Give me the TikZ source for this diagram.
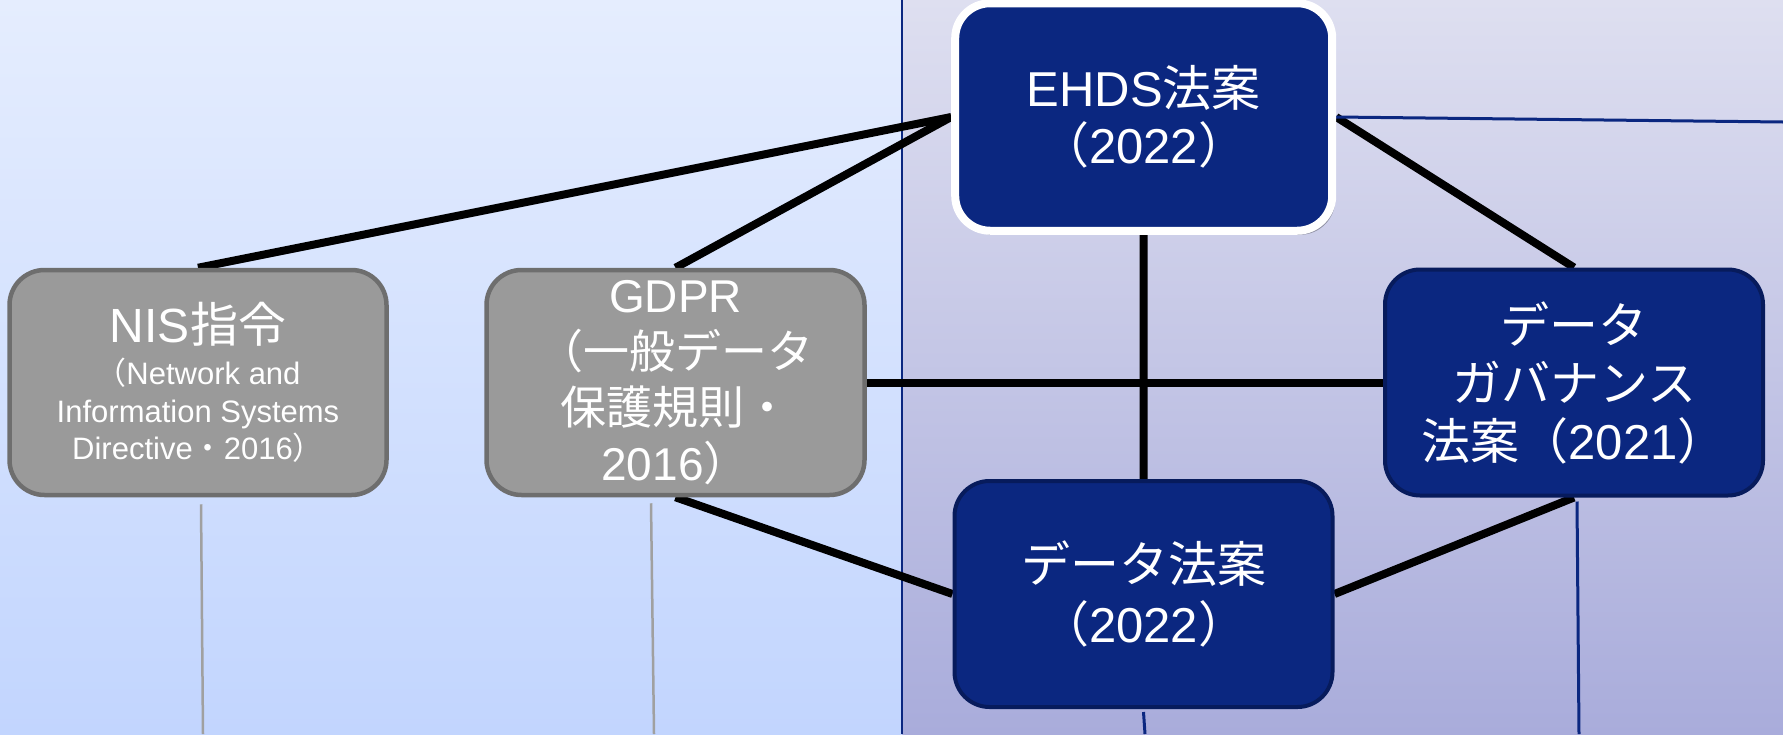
\documentclass[tikz,border=0pt]{standalone}
\usepackage{fontspec}
\setmainfont{Liberation Sans}
\newfontfamily\jp{Noto Sans CJK JP}
\usetikzlibrary{shadows}
\definecolor{navy}{RGB}{11,39,128}
\definecolor{navyedge}{RGB}{7,27,92}
\definecolor{boxgray}{RGB}{154,154,154}
\definecolor{grayedge}{RGB}{110,110,110}
\definecolor{lefttop}{RGB}{229,237,254}
\definecolor{leftbot}{RGB}{194,213,254}
\definecolor{righttop}{RGB}{222,223,240}
\definecolor{rightbot}{RGB}{169,172,219}
\definecolor{thingraycol}{RGB}{160,160,160}
\pgfdeclarelayer{bg}
\pgfdeclarelayer{lines}
\pgfsetlayers{bg,lines,main}
\begin{document}
\begin{tikzpicture}[x=1pt,y=-1pt,
  graybox/.style={draw=grayedge, line width=4.5pt, fill=boxgray, rounded corners=35pt,
    inner sep=0pt, align=center, text=white, minimum width=377pt, minimum height=225pt},
  navybox/.style={draw=navyedge, line width=4pt, fill=navy, rounded corners=35pt,
    inner sep=0pt, align=center, text=white},
  whitebox/.style={navybox, draw=white, line width=8pt,
    drop shadow={shadow xshift=3pt, shadow yshift=-4pt, opacity=0.3, fill=black}},
  link/.style={line width=8pt, black},
  thinblue/.style={line width=3pt, navy},
  thingray/.style={line width=2.5pt, thingraycol},
]
\useasboundingbox (0,0) rectangle (1783,734);
\begin{pgfonlayer}{bg}
  \shade[top color=lefttop, bottom color=leftbot] (0,0) rectangle (902,734);
  \shade[top color=righttop, bottom color=rightbot] (902,0) rectangle (1783,734);
  \draw[line width=2.5pt, navy] (902,0) -- (902,734);
\end{pgfonlayer}

\node[whitebox, minimum width=377pt, minimum height=227.5pt,
  font=\fontsize{49}{57}\selectfont] (ehds) at (1143.7,117)
  {EHDS{\jp 法案}\\{\jp （}2022{\jp ）}};
\node[graybox, font=\fontsize{31}{37.5}\selectfont] (nis) at (198,382.5)
  {{\fontsize{48}{48}\selectfont NIS{\jp 指令}}\\[5pt]
   {\jp （}Network and\\Information Systems\\Directive{\jp ・}2016{\jp ）}};
\node[graybox, minimum width=378pt, font=\fontsize{46}{56}\selectfont] (gdpr) at (675.5,382.5)
  {GDPR\\{\jp （一般データ}\\{\jp 保護規則・}\\2016{\jp ）}};
\node[navybox, minimum width=378pt, minimum height=226pt,
  font=\fontsize{49}{58}\selectfont] (dg) at (1574,382.5)
  {{\jp データ}\\{\jp ガバナンス}\\{\jp 法案（}2021{\jp ）}};
\node[navybox, minimum width=378pt, minimum height=226pt,
  font=\fontsize{49}{60}\selectfont] (dl) at (1143.5,594)
  {{\jp データ法案}\\{\jp （}2022{\jp ）}};

\coordinate (ehdsR) at (1783,122);
\coordinate (nisB) at (203,734);
\coordinate (gdprB) at (654,734);
\coordinate (dgB) at (1579,734);
\coordinate (dlB) at (1145,734);

\begin{pgfonlayer}{lines}
  \draw[link] (nis.north) -- (ehds.west);
  \draw[link] (gdpr.north) -- (ehds.west);
  \draw[link] (ehds.east) -- (dg.north);
  \draw[link] (ehds.south) -- (dl.north);
  \draw[link] (gdpr.east) -- (dg.west);
  \draw[link] (gdpr.south) -- (dl.west);
  \draw[link] (dl.east) -- (dg.south);
  \draw[thinblue] (ehds.east) -- (ehdsR);
  \draw[thingray] ([shift={(3,7)}]nis.south) -- (nisB);
  \draw[thingray] ([shift={(-24.5,6)}]gdpr.south) -- (gdprB);
  \draw[thinblue] ([shift={(3,4)}]dg.south) -- (dgB);
  \draw[thinblue] ([shift={(0,3)}]dl.south) -- (dlB);
\end{pgfonlayer}
\end{tikzpicture}
\end{document}
